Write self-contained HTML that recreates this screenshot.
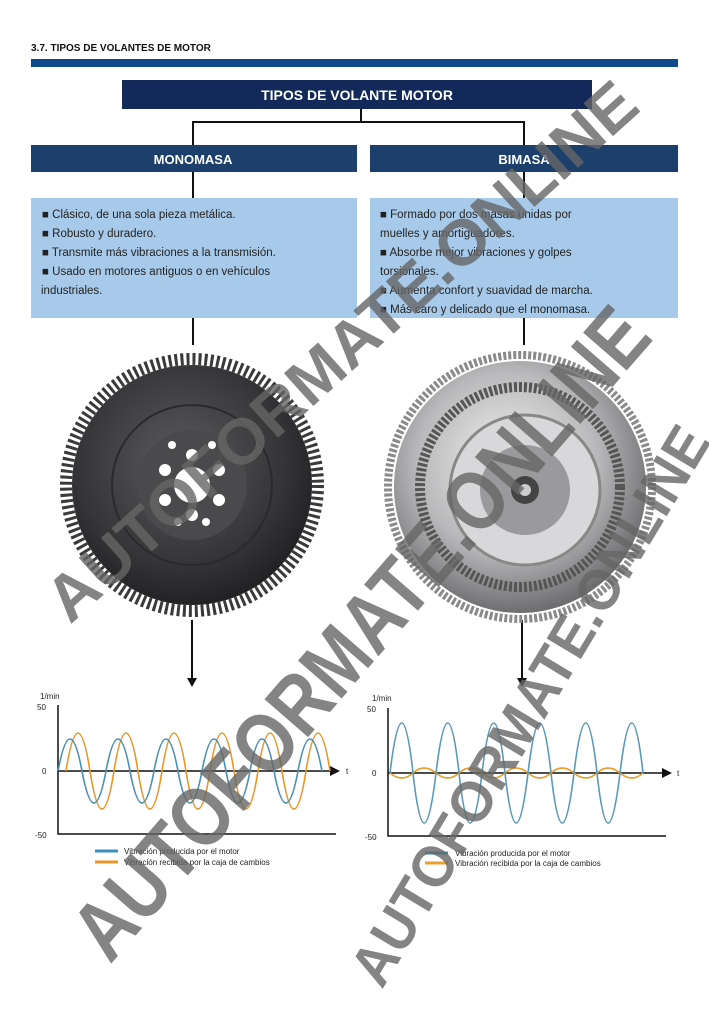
<!DOCTYPE html>
<html><head><meta charset="utf-8"><style>
body{margin:0;background:#fff;}
svg{display:block;font-family:"Liberation Sans",sans-serif;}
</style></head><body>
<svg width="709" height="1024" viewBox="0 0 709 1024" xmlns="http://www.w3.org/2000/svg">
<defs>
<radialGradient id="dk" cx="45%" cy="40%" r="60%"><stop offset="0" stop-color="#5a5a5c"/><stop offset="0.7" stop-color="#363638"/><stop offset="1" stop-color="#222224"/></radialGradient>
<radialGradient id="sv" cx="45%" cy="40%" r="60%"><stop offset="0" stop-color="#f2f2f2"/><stop offset="0.6" stop-color="#b8b8ba"/><stop offset="1" stop-color="#6e6e70"/></radialGradient>
</defs>
<text x="31" y="51" font-size="10" font-weight="bold" fill="#111">3.7. TIPOS DE VOLANTES DE MOTOR</text>
<rect x="31" y="59" width="647" height="8" fill="#0d4a8c"/>
<rect x="122" y="80" width="470" height="29" fill="#12295a"/>
<text x="357" y="100" font-size="14" font-weight="bold" fill="#fff" text-anchor="middle">TIPOS DE VOLANTE MOTOR</text>
<g stroke="#111" stroke-width="2" fill="none">
<path d="M361,109V122M193,145V122H524V145"/>
<path d="M193,172V198M524,172V198M193,318V345M524,318V345"/>
<path d="M192,620V680M522,620V680"/>
</g>
<path d="M187,678h10l-5,9z M517,678h10l-5,9z" fill="#111"/>
<rect x="31" y="145" width="326" height="27" fill="#1d3f6c"/>
<rect x="370" y="145" width="308" height="27" fill="#1d3f6c"/>
<text x="193" y="164" font-size="13" font-weight="bold" fill="#fff" text-anchor="middle">MONOMASA</text>
<text x="524" y="164" font-size="13" font-weight="bold" fill="#fff" text-anchor="middle">BIMASA</text>
<rect x="31" y="198" width="326" height="120" fill="#a8caea"/>
<rect x="370" y="198" width="308" height="120" fill="#a8caea"/>
<g font-size="11.5" fill="#222">
<text x="42" y="218">■ Clásico, de una sola pieza metálica.</text>
<text x="42" y="237">■ Robusto y duradero.</text>
<text x="42" y="256">■ Transmite más vibraciones a la transmisión.</text>
<text x="42" y="275">■ Usado en motores antiguos o en vehículos</text>
<text x="41" y="294">industriales.</text>
<text x="380" y="218">■ Formado por dos masas unidas por</text>
<text x="380" y="237">muelles y amortiguadores.</text>
<text x="380" y="256">■ Absorbe mejor vibraciones y golpes</text>
<text x="380" y="275">torsionales.</text>
<text x="380" y="294">■ Aumenta confort y suavidad de marcha.</text>
<text x="380" y="313">■ Más caro y delicado que el monomasa.</text>
</g>
<circle cx="192" cy="485" r="126" fill="none" stroke="#3a3a3c" stroke-width="12" stroke-dasharray="3 3"/>
<circle cx="192" cy="485" r="120" fill="url(#dk)"/>
<circle cx="192" cy="485" r="80" fill="none" stroke="#2a2a2c" stroke-width="2"/>
<circle cx="192" cy="485" r="55" fill="#4a4a4c"/>
<circle cx="192" cy="485" r="18" fill="#fff"/>
<g fill="#fff"><circle cx="165" cy="470" r="6"/><circle cx="219" cy="470" r="6"/><circle cx="165" cy="500" r="6"/><circle cx="219" cy="500" r="6"/><circle cx="192" cy="455" r="6"/><circle cx="192" cy="515" r="6"/><circle cx="172" cy="445" r="4"/><circle cx="212" cy="445" r="4"/><circle cx="178" cy="522" r="4"/><circle cx="206" cy="522" r="4"/></g>
<circle cx="520" cy="487" r="132" fill="none" stroke="#8a8a8c" stroke-width="8" stroke-dasharray="3 2"/>
<circle cx="520" cy="487" r="126" fill="url(#sv)"/>
<circle cx="520" cy="487" r="100" fill="none" stroke="#555" stroke-width="10" stroke-dasharray="3 2"/>
<circle cx="525" cy="490" r="75" fill="#d8d8da" stroke="#888" stroke-width="3"/>
<circle cx="525" cy="490" r="45" fill="#9a9a9c"/>
<circle cx="525" cy="490" r="14" fill="#444"/>
<circle cx="525" cy="490" r="6" fill="#ccc"/>
<g stroke="#111" stroke-width="1.5" fill="none"><path d="M58,705V834H336M58,771H330"/></g>
<path d="M330,766l10,5l-10,5z" fill="#111"/>
<g font-size="8" fill="#222"><text x="40" y="699">1/min</text><text x="37" y="710">50</text><text x="42" y="774">0</text><text x="35" y="838">-50</text><text x="346" y="774">t</text></g>
<path d="M60,771 q12,-76 24,0 t24,0 t24,0 t24,0 t24,0 t24,0 t24,0 t24,0 t24,0 t24,0 t24,0" fill="none" stroke="#e8952a" stroke-width="1.6" transform="translate(6,0)"/>
<path d="M58,771 q12,-64 24,0 t24,0 t24,0 t24,0 t24,0 t24,0 t24,0 t24,0 t24,0 t24,0 t24,0" fill="none" stroke="#4a8fb0" stroke-width="1.6"/>
<g stroke-width="3"><path d="M95,851H118" stroke="#3a8fc0"/><path d="M95,862H118" stroke="#e8952a"/></g>
<g font-size="8" fill="#222"><text x="124" y="854">Vibración producida por el motor</text><text x="124" y="865">Vibración recibida por la caja de cambios</text></g>
<g stroke="#111" stroke-width="1.5" fill="none"><path d="M388,708V836H666M388,773H662"/></g>
<path d="M662,768l10,5l-10,5z" fill="#111"/>
<g font-size="8" fill="#222"><text x="372" y="701">1/min</text><text x="367" y="712">50</text><text x="372" y="776">0</text><text x="365" y="840">-50</text><text x="677" y="776">t</text></g>
<path d="M390,773 q12,10 23,0 t23,0 t23,0 t23,0 t23,0 t23,0 t23,0 t23,0 t23,0 t23,0 t23,0" fill="none" stroke="#e8a030" stroke-width="1.6"/>
<path d="M390,773 q12,-100 23,0 t23,0 t23,0 t23,0 t23,0 t23,0 t23,0 t23,0 t23,0 t23,0 t23,0" fill="none" stroke="#5a9ab8" stroke-width="1.6"/>
<g stroke-width="3"><path d="M425,853H448" stroke="#3a8fc0"/><path d="M425,863H448" stroke="#e8a030"/></g>
<g font-size="8" fill="#222"><text x="455" y="856">Vibración producida por el motor</text><text x="455" y="866">Vibración recibida por la caja de cambios</text></g>
<g font-weight="bold" fill="#666" opacity="0.8" font-family="Liberation Sans,sans-serif">
<text transform="translate(70,625) rotate(-42)" font-size="64" textLength="770" lengthAdjust="spacingAndGlyphs">AUTOFORMATE.ONLINE</text>
<text transform="translate(110,965) rotate(-49)" font-size="84" textLength="830" lengthAdjust="spacingAndGlyphs">AUTOFORMATE.ONLINE</text>
<text transform="translate(382,990) rotate(-59)" font-size="58" textLength="640" lengthAdjust="spacingAndGlyphs">AUTOFORMATE.ONLINE</text>
</g>
</svg>
</body></html>
